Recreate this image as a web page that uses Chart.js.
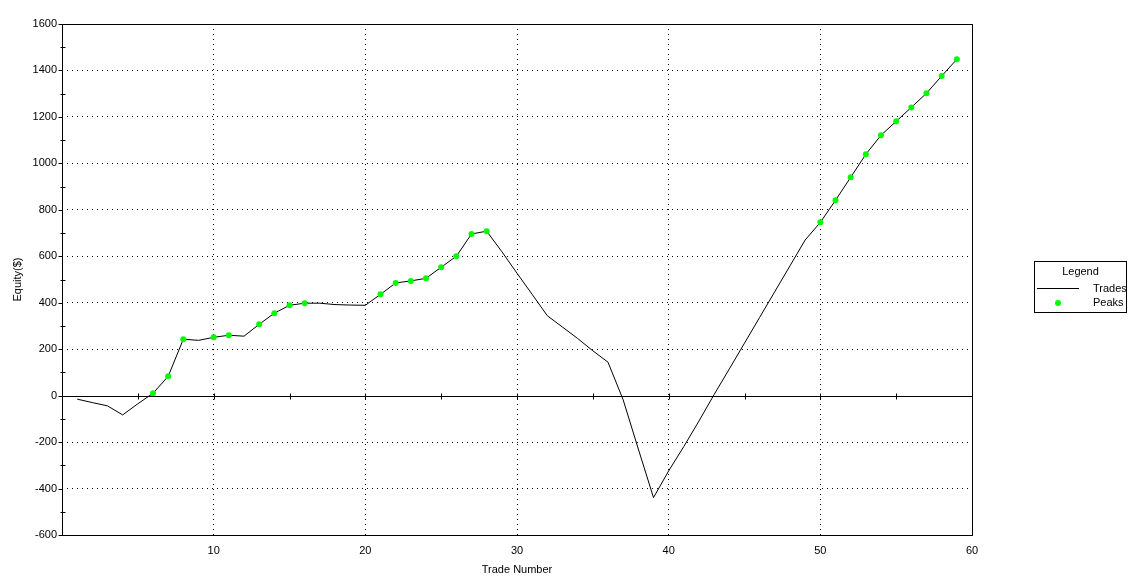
<!DOCTYPE html>
<html>
<head>
<meta charset="utf-8">
<script src="https://cdn.jsdelivr.net/npm/chart.js@4.4.1/dist/chart.umd.min.js"></script>
<style>
html,body{margin:0;padding:0;background:#fff;}
#wrap{position:relative;width:1137px;height:585px;}
canvas{position:absolute;left:0;top:0;}
#legend{position:absolute;left:1034px;top:261px;width:91px;height:50px;border:1px solid #000;background:#fff;font-family:"Liberation Sans",Arial,sans-serif;font-size:11px;color:#000;}
#legend .t{position:absolute;left:0;width:91px;top:3px;text-align:center;}
#legend .l1{position:absolute;left:2px;top:26px;width:42px;height:1px;background:#000;}
#legend .d{position:absolute;left:20px;top:38px;width:6px;height:6px;border-radius:50%;background:#00ff00;}
#legend .n1{position:absolute;left:58px;top:20px;}
#legend .n2{position:absolute;left:58px;top:34px;}
</style>
</head>
<body>
<div id="wrap">
<canvas id="c" width="1137" height="585"></canvas>
<div id="legend"><div class="t">Legend</div><div class="l1"></div><span class="n1">Trades</span><div class="d"></div><span class="n2">Peaks</span></div>
</div>
<script>
// Trade numbers 1..59 and equity values
const tradeNumbers = [1,2,3,4,5,6,7,8,9,10,11,12,13,14,15,16,17,18,19,20,21,22,23,24,25,26,27,28,29,30,31,32,33,34,35,36,37,38,39,40,41,42,43,44,45,46,47,48,49,50,51,52,53,54,55,56,57,58,59];
const equity = [-15,-30,-44,-83,-35,10,83,243,238,251,260,256,307,355,389,398,398,392,390,389,436,485,494,505,553,600,696,708,620,527,436,344,295,246,193,144,-18,-230,-439,-324,-219,-109,5,115,226,337,448,559,670,746,841,940,1039,1121,1181,1241,1302,1376,1448];
const peakTrades = [6,7,8,10,11,13,14,15,16,21,22,23,24,25,26,27,28,50,51,52,53,54,55,56,57,58,59];
const xTicks = [10,20,30,40,50,60];
const yTicks = [-600,-400,-200,0,200,400,600,800,1000,1200,1400,1600];

const tradePoints = tradeNumbers.map((n,i)=>({x:n,y:equity[i]}));
const peakPoints = peakTrades.map(n=>({x:n,y:equity[tradeNumbers.indexOf(n)]}));

const FONT = {family:'"Liberation Sans", Arial, sans-serif', size:11};

const framePlugin = {
  id:'frame',
  afterDraw(chart){
    const ctx = chart.ctx, a = chart.chartArea;
    const xs = chart.scales.x, ys = chart.scales.y;
    ctx.save();
    ctx.strokeStyle = '#000';
    ctx.lineWidth = 1;
    ctx.strokeRect(Math.round(a.left)+0.5, Math.round(a.top)+0.5, Math.round(a.right-a.left), Math.round(a.bottom-a.top));
    const y0 = Math.round(ys.getPixelForValue(0))+0.5;
    ctx.beginPath();
    ctx.moveTo(a.left, y0); ctx.lineTo(a.right, y0);
    for(let v=5; v<60; v+=5){
      const px = Math.round(xs.getPixelForValue(v))+0.5;
      ctx.moveTo(px, y0-3); ctx.lineTo(px, y0+3);
    }
    const lx = Math.round(a.left)+0.5;
    for(let v=-600; v<=1600; v+=100){
      const py = Math.round(ys.getPixelForValue(v))+0.5;
      if(v%200===0){ ctx.moveTo(lx-4, py); ctx.lineTo(lx, py); }
      else { ctx.moveTo(lx-2, py); ctx.lineTo(lx+3, py); }
    }
    ctx.stroke();
    ctx.restore();
  }
};

new Chart(document.getElementById('c'), {
  type:'scatter',
  data:{
    datasets:[
      {label:'Trades', data:tradePoints, showLine:true, borderColor:'#000', borderWidth:1, pointRadius:0, pointHoverRadius:0, order:2},
      {label:'Peaks', data:peakPoints, showLine:false, pointRadius:3, pointBackgroundColor:'#00ff00', pointBorderWidth:0, pointBorderColor:'#00ff00', order:1}
    ]
  },
  options:{
    responsive:false,
    animation:false,
    events:[],
    layout:{padding:{left:0, top:24, right:165, bottom:0}},
    plugins:{legend:{display:false}, tooltip:{enabled:false}},
    scales:{
      x:{
        type:'linear', min:0, max:60,
        afterBuildTicks(s){ s.ticks = [0].concat(xTicks).map(v=>({value:v})); },
        afterFit(s){ s.height = 50; },
        ticks:{font:FONT, color:'#000', padding:9, maxRotation:0, callback:(v)=> v===0 ? '' : String(v)},
        grid:{drawTicks:false, lineWidth:1, color:(c)=> (c.tick && (c.tick.value===0 || c.tick.value===60)) ? 'rgba(0,0,0,0)' : '#000'},
        border:{display:false, dash:[1,4]},
        title:{display:true, text:'Trade Number', font:FONT, color:'#000', padding:{top:0,bottom:8}}
      },
      y:{
        type:'linear', min:-600, max:1600,
        afterBuildTicks(s){ s.ticks = yTicks.map(v=>({value:v})); },
        afterFit(s){ s.width = 62; },
        ticks:{font:FONT, color:'#000', padding:5, callback:(v)=> String(v)},
        grid:{drawTicks:false, lineWidth:1, color:(c)=> (c.tick && (c.tick.value===0 || c.tick.value===-600 || c.tick.value===1600)) ? 'rgba(0,0,0,0)' : '#000'},
        border:{display:false, dash:[1,4]},
        title:{display:true, text:'Equity($)', font:FONT, color:'#000', padding:{top:11,bottom:0}}
      }
    }
  },
  plugins:[framePlugin]
});
</script>
</body>
</html>
